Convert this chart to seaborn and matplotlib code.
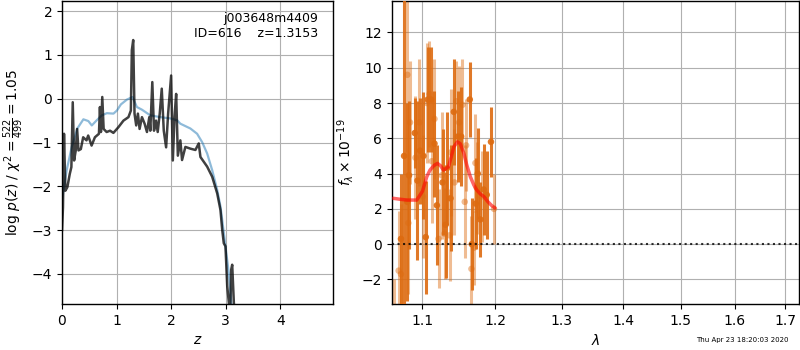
import numpy as np
import pandas as pd
import matplotlib
matplotlib.use("Agg")
import matplotlib.pyplot as plt
from matplotlib.ticker import FixedLocator, NullLocator, FixedFormatter
import seaborn as sns

# ---------------- data: left panel (log p(z)) ----------------
z_dark = [0.000, 0.018, 0.037, 0.062, 0.098, 0.142, 0.172, 0.197, 0.222, 0.252, 0.277, 0.302,
          0.345, 0.388, 0.449, 0.480, 0.542, 0.603, 0.677, 0.695, 0.714, 0.738, 0.763, 0.818,
          0.880, 0.942, 1.034, 1.126, 1.218, 1.262, 1.280, 1.305, 1.329, 1.360, 1.391, 1.422,
          1.465, 1.514, 1.557, 1.600, 1.618, 1.655, 1.686, 1.723, 1.754, 1.791, 1.828, 1.865,
          1.908, 1.945, 2.000, 2.031, 2.062, 2.092, 2.123, 2.169, 2.200, 2.261, 2.353, 2.445,
          2.506, 2.537, 2.660, 2.752, 2.844, 2.904, 2.936, 2.965, 2.996, 3.028, 3.057, 3.080,
          3.101, 3.119, 3.149, 3.200, 4.500]
logp_dark = [-3.02, -2.48, -0.80, -2.10, -2.02, -1.72, -1.56, -0.08, -1.41, -1.18, -0.69, -1.18,
             -1.15, -0.88, -0.95, -0.84, -1.07, -0.88, -0.80, -0.19, -0.76, 0.04, -0.69, -0.76,
             -0.73, -0.78, -0.65, -0.50, -0.42, -0.27, 1.11, 1.34, -0.34, -0.61, -0.34, -0.69,
             -0.42, -0.57, -0.76, -0.42, -0.73, 0.38, -0.73, -0.50, -0.76, -0.34, 0.23, -0.73,
             -1.11, -0.34, 0.53, -1.41, -0.42, 0.11, -1.30, -0.95, -1.40, -1.10, -1.14, -1.17,
             -1.02, -1.33, -1.55, -1.78, -2.16, -2.54, -2.99, -3.30, -3.37, -4.28, -4.65, -5.00,
             -3.90, -3.79, -4.65, -5.50, -30.0]

z_blue = [0.000, 0.086, 0.178, 0.281, 0.392, 0.483, 0.546, 0.638, 0.730, 0.822, 0.943, 1.006,
          1.079, 1.189, 1.292, 1.373, 1.465, 1.618, 1.801, 1.985, 2.108, 2.169, 2.353, 2.476,
          2.568, 2.660, 2.752, 2.844, 2.904, 2.936, 2.996, 3.057, 3.101, 3.162, 4.500]
logp_blue = [-2.31, -1.63, -1.10, -0.68, -0.47, -0.51, -0.61, -0.49, -0.38, -0.33, -0.34, -0.27,
             -0.13, -0.02, 0.04, -0.19, -0.25, -0.38, -0.42, -0.45, -0.49, -0.57, -0.68, -0.80,
             -0.99, -1.25, -1.63, -2.08, -2.46, -2.77, -3.37, -3.98, -4.65, -5.40, -30.0]

# ---------------- data: right panel (spectrum) ----------------
wave_dark = [1.0720, 1.0760, 1.0802, 1.0824, 1.0899, 1.0934, 1.0969, 1.1013, 1.1044, 1.1071,
             1.1116, 1.1160, 1.1192, 1.1268, 1.1309, 1.1327, 1.1377, 1.1422, 1.1477, 1.1523,
             1.1643, 1.1671, 1.1727, 1.1755, 1.1792, 1.1839, 1.1882, 1.1943]
flux_dark = [0.3, 5.0, 2.4, 3.9, 6.3, 3.6, 5.3, 5.0, 0.4, 8.2, 8.2, 5.7, 2.2, 3.5, 1.1, 4.3, 2.6,
             7.5, 6.1, 6.1, 8.2, 0.0, 2.3, 4.0, 1.4, 3.1, 2.8, 5.8]
err_dark = [3.7, 9.0, 5.6, 4.2, 2.0, 4.5, 3.0, 3.6, 3.2, 3.0, 3.0, 3.0, 3.4, 3.0, 3.0, 3.2, 3.0,
            3.0, 2.6, 2.8, 2.1, 2.6, 2.6, 2.6, 2.1, 2.6, 2.5, 2.0]

wave_light = [1.0630, 1.0690, 1.0720, 1.0802, 1.0815, 1.0837, 1.0908, 1.0960, 1.1004, 1.1058,
              1.1093, 1.1125, 1.1160, 1.1214, 1.1259, 1.1295, 1.1363, 1.1381, 1.1431, 1.1454,
              1.1495, 1.1541, 1.1573, 1.1592, 1.1666, 1.1703, 1.1722, 1.1741, 1.1811, 1.1986]
flux_light = [-4.0, -1.5, -1.7, 9.6, 1.2, 6.9, 4.9, 6.9, 2.7, 8.0, 8.5, 4.7, 7.1, 0.3, 3.9, 0.6,
              0.5, 5.2, 3.5, 8.1, 6.9, 7.9, 2.4, 5.6, -1.4, -0.2, 4.6, 3.2, 2.7, 2.0]
err_light = [2.0, 3.4, 4.0, 4.4, 4.0, 3.5, 3.5, 3.6, 3.5, 3.4, 3.0, 3.5, 3.4, 2.8, 3.6, 2.6,
             2.6, 3.6, 3.0, 2.3, 3.2, 2.6, 3.2, 2.6, 3.0, 2.1, 2.8, 2.6, 2.6, 2.0]

model_wave = [1.062, 1.070, 1.080, 1.0925, 1.1000, 1.1058, 1.110, 1.115, 1.120, 1.124, 1.128, 1.132,
              1.135, 1.139, 1.142, 1.147, 1.151, 1.156, 1.160, 1.165, 1.170, 1.174, 1.179, 1.184,
              1.190, 1.195, 1.200]
model_flux = [2.6, 2.55, 2.5, 2.5, 3.0, 3.83, 4.2, 4.45, 4.58, 4.45, 4.2, 4.3, 4.4, 5.0, 5.5, 5.8,
              5.7, 5.15, 4.5, 3.83, 3.35, 3.07, 2.85, 2.7, 2.4, 2.2, 2.05]

stamp = "Thu Apr 23 18:20:03 2020"
label_text = "j003648m4409\nID=616    z=1.3153"

# ---------------- style ----------------
sns.set_style("ticks", {
    "axes.grid": True, "grid.color": "#b0b0b0", "axes.edgecolor": "black",
    "xtick.color": "black", "ytick.color": "black", "axes.labelcolor": "black",
    "text.color": "black", "xtick.bottom": True, "ytick.left": True,
})
plt.rcParams["font.family"] = ["DejaVu Sans"]
plt.rcParams["font.size"] = 10
plt.rcParams["grid.linewidth"] = 0.8
plt.rcParams["axes.linewidth"] = 1.0

fig = plt.figure(figsize=(8, 3.5), dpi=100)
ax1 = fig.add_axes([0.0775, 0.131, 0.339, 0.866])
ax2 = fig.add_axes([0.490, 0.131, 0.509, 0.866])

# left panel
df_blue = pd.DataFrame({"z": z_blue, "logp": logp_blue})
df_dark = pd.DataFrame({"z": z_dark, "logp": logp_dark})
sns.lineplot(data=df_blue, x="z", y="logp", ax=ax1, color="#1f77b4", alpha=0.5, lw=1.6,
             sort=False, estimator=None)
sns.lineplot(data=df_dark, x="z", y="logp", ax=ax1, color="black", alpha=0.75, lw=1.8,
             sort=False, estimator=None)
ax1.set_xlim(0, 4.97)
ax1.set_ylim(-4.69, 2.23)
ax1.set_xticks([0, 1, 2, 3, 4])
ax1.set_yticks([-4, -3, -2, -1, 0, 1, 2])
ax1.set_xlabel("$z$")
ax1.set_ylabel(r"log $p(z)$ / $\chi^2=\frac{522}{499}=1.05$")
ax1.text(0.945, 0.965, label_text, transform=ax1.transAxes, ha="right", va="top",
         fontsize=9, linespacing=1.2)
ax1.grid(True, color="#b0b0b0", lw=0.8)

# right panel
orange = "#DD6B10"
ax2.errorbar(wave_light, flux_light, yerr=err_light, fmt="none", ecolor=orange, alpha=0.45,
             elinewidth=2.2, zorder=2)
sns.scatterplot(x=wave_light, y=flux_light, ax=ax2, color=orange, alpha=0.45, s=22,
                edgecolor="none", zorder=3)
ax2.errorbar(wave_dark, flux_dark, yerr=err_dark, fmt="none", ecolor=orange, alpha=0.9,
             elinewidth=2.2, zorder=4)
sns.scatterplot(x=wave_dark, y=flux_dark, ax=ax2, color=orange, alpha=0.9, s=22,
                edgecolor="none", zorder=5)
sns.lineplot(x=model_wave, y=model_flux, ax=ax2, color="red", alpha=0.6, lw=2.5, zorder=6,
             sort=False, estimator=None)
ax2.axhline(0, color="black", ls=":", lw=1.5, alpha=0.8, zorder=7)
ax2.set_xscale("log")
ax2.set_xlim(1.0605, 1.729)
ax2.set_ylim(-3.4, 13.78)
ticks = [1.1, 1.2, 1.3, 1.4, 1.5, 1.6, 1.7]
ax2.xaxis.set_major_locator(FixedLocator(ticks))
ax2.xaxis.set_major_formatter(FixedFormatter([f"{t:.1f}" for t in ticks]))
ax2.xaxis.set_minor_locator(NullLocator())
ax2.set_yticks([-2, 0, 2, 4, 6, 8, 10, 12])
ax2.set_xlabel(r"$\lambda$")
ax2.set_ylabel(r"$f_\lambda \times 10^{-19}$")
ax2.grid(True, color="#b0b0b0", lw=0.8)

fig.text(742 / 800, 1 - 340 / 350, stamp, fontsize=5, ha="center", va="center")

fig.savefig("out.png", dpi=100)
